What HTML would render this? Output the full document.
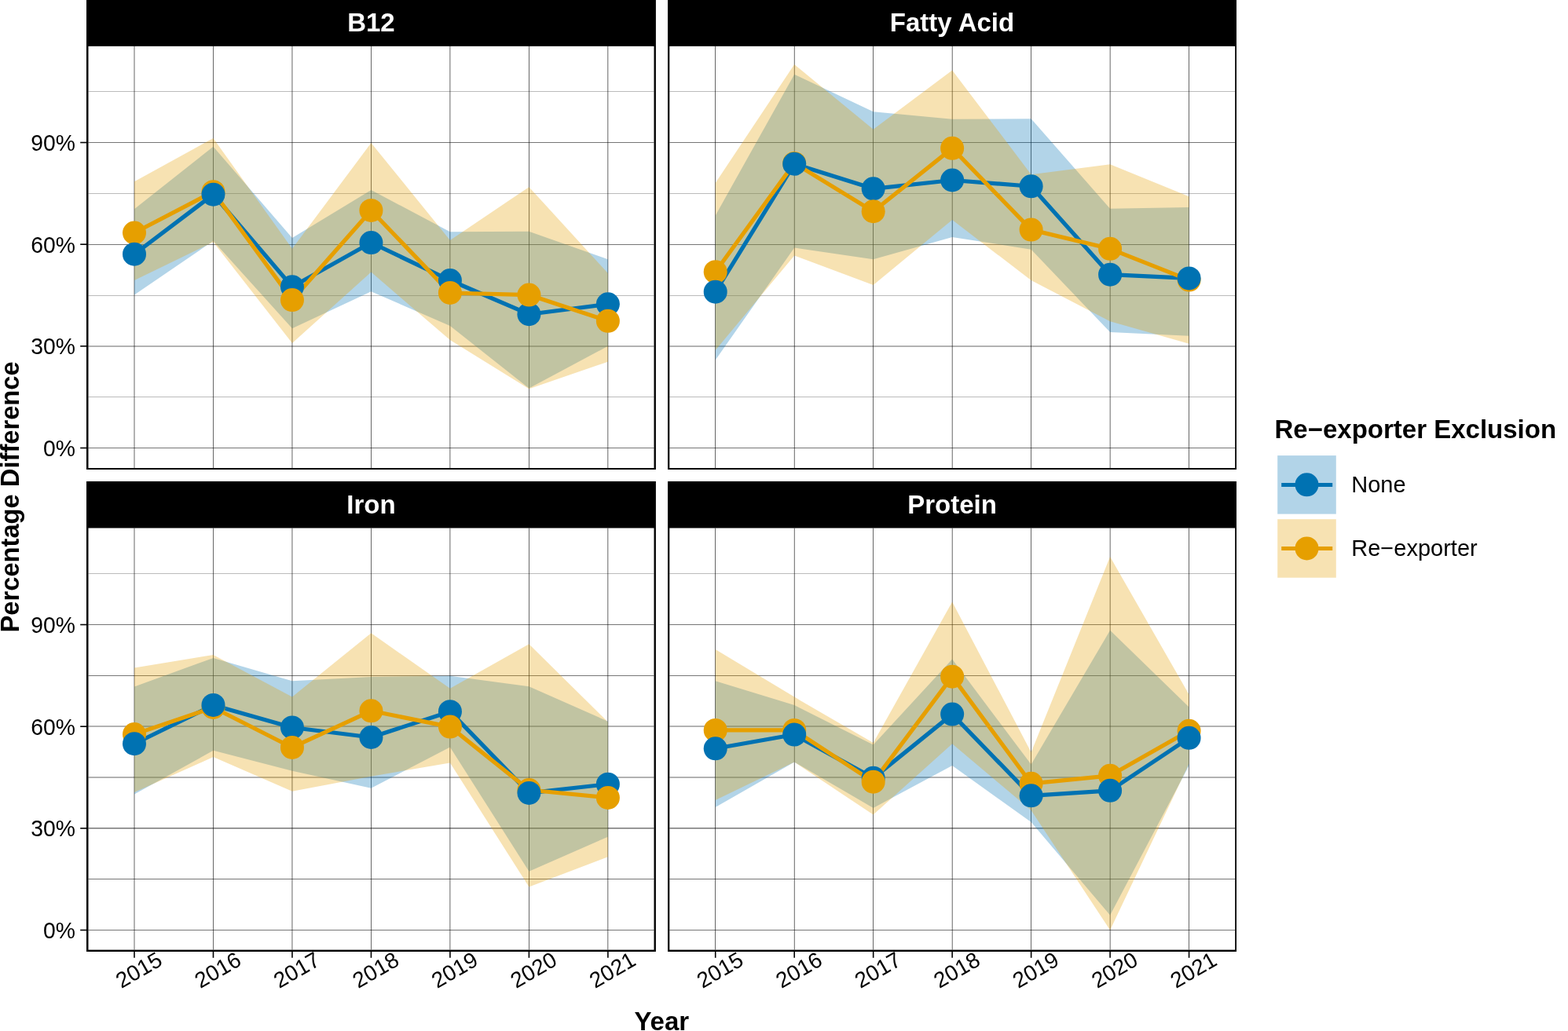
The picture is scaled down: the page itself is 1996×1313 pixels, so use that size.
<!DOCTYPE html>
<html><head><meta charset="utf-8"><title>Percentage Difference by Year</title>
<style>
html,body{margin:0;padding:0;background:#fff;}
body{width:1996px;height:1313px;overflow:hidden;}
svg{display:block;}
text{font-family:"Liberation Sans",Arial,Helvetica,sans-serif;}
.strip{font-size:33px;font-weight:bold;fill:#fff;text-anchor:middle;}
.title{font-size:33px;font-weight:bold;fill:#000;}
.ytxt{font-size:29.2px;fill:#000;text-anchor:end;}
.xtxt{font-size:28px;fill:#000;text-anchor:middle;}
.ltxt{font-size:29px;fill:#000;}
.tick{stroke:#000;stroke-width:1.6;}
.ln{stroke-width:5.2;stroke-linejoin:round;stroke-linecap:butt;}
</style></head>
<body>
<svg width="1996" height="1313" viewBox="0 0 1996 1313">
<rect width="100%" height="100%" fill="#fff"/>
<defs>
<clipPath id="cpB12"><rect x="112.5" y="58.9" width="720" height="537.1"/></clipPath>
<clipPath id="cpFattyAcid"><rect x="852.3" y="58.9" width="719.9" height="537.1"/></clipPath>
<clipPath id="cpIron"><rect x="112.5" y="672.5" width="720" height="537.1"/></clipPath>
<clipPath id="cpProtein"><rect x="852.3" y="672.5" width="719.9" height="537.1"/></clipPath>
</defs>
<rect x="110" y="0" width="724.9" height="598" fill="#000"/>
<rect x="112.5" y="58.9" width="720" height="537.1" fill="#fff"/>
<text x="472.45" y="40" class="strip">B12</text>
<g clip-path="url(#cpB12)">
<rect x="112" y="116.36" width="721" height="0.27" fill="#000"/>
<rect x="112" y="181.23" width="721" height="0.54" fill="#000"/>
<rect x="112" y="246.37" width="721" height="0.27" fill="#000"/>
<rect x="112" y="311.23" width="721" height="0.54" fill="#000"/>
<rect x="112" y="376.37" width="721" height="0.27" fill="#000"/>
<rect x="112" y="440.7" width="721" height="0.6" fill="#000"/>
<rect x="112" y="505.37" width="721" height="0.27" fill="#000"/>
<rect x="112" y="570.23" width="721" height="0.54" fill="#000"/>
<rect x="170.7" y="58" width="0.6" height="538" fill="#000"/>
<rect x="271.18" y="58" width="0.6" height="538" fill="#000"/>
<rect x="371.66" y="58" width="0.6" height="538" fill="#000"/>
<rect x="472.14" y="58" width="0.6" height="538" fill="#000"/>
<rect x="572.62" y="58" width="0.6" height="538" fill="#000"/>
<rect x="673.1" y="58" width="0.6" height="538" fill="#000"/>
<rect x="773.58" y="58" width="0.6" height="538" fill="#000"/>
<polygon points="171,266.23 271.48,186.71 371.96,302.97 472.44,242.03 572.92,295.19 673.4,294.76 773.88,330.2 773.88,440.84 673.4,494.43 572.92,414.91 472.44,371.26 371.96,418.37 271.48,306.86 171,375.58" fill="#0072B2" fill-opacity="0.3"/>
<polygon points="171,231.22 271.48,175.9 371.96,316.8 472.44,181.95 572.92,305.99 673.4,238.14 773.88,347.92 773.88,460.72 673.4,495.3 572.92,433.06 472.44,346.62 371.96,436.95 271.48,308.15 171,356.99" fill="#E69F00" fill-opacity="0.3"/>
<polyline points="171,323.71 271.48,247.65 371.96,365.2 472.44,309.02 572.92,356.99 673.4,400.21 773.88,387.25" fill="none" stroke="#0072B2" class="ln"/>
<polyline points="171,296.49 271.48,244.19 371.96,382.06 472.44,267.96 572.92,372.98 673.4,375.58 773.88,408.86" fill="none" stroke="#E69F00" class="ln"/>
<circle cx="171" cy="296.49" r="15" fill="#E69F00"/>
<circle cx="171" cy="323.71" r="15" fill="#0072B2"/>
<circle cx="271.48" cy="244.19" r="15" fill="#E69F00"/>
<circle cx="271.48" cy="247.65" r="15" fill="#0072B2"/>
<circle cx="371.96" cy="365.2" r="15" fill="#0072B2"/>
<circle cx="371.96" cy="382.06" r="15" fill="#E69F00"/>
<circle cx="472.44" cy="309.02" r="15" fill="#0072B2"/>
<circle cx="472.44" cy="267.96" r="15" fill="#E69F00"/>
<circle cx="572.92" cy="356.99" r="15" fill="#0072B2"/>
<circle cx="572.92" cy="372.98" r="15" fill="#E69F00"/>
<circle cx="673.4" cy="400.21" r="15" fill="#0072B2"/>
<circle cx="673.4" cy="375.58" r="15" fill="#E69F00"/>
<circle cx="773.88" cy="387.25" r="15" fill="#0072B2"/>
<circle cx="773.88" cy="408.86" r="15" fill="#E69F00"/>
</g>
<line x1="102.2" x2="110" y1="570.5" y2="570.5" class="tick"/>
<text x="95.9" y="581" class="ytxt" textLength="40.89" lengthAdjust="spacingAndGlyphs">0%</text>
<line x1="102.2" x2="110" y1="440.84" y2="440.84" class="tick"/>
<text x="95.9" y="451.34" class="ytxt" textLength="56.63" lengthAdjust="spacingAndGlyphs">30%</text>
<line x1="102.2" x2="110" y1="311.18" y2="311.18" class="tick"/>
<text x="95.9" y="321.68" class="ytxt" textLength="56.63" lengthAdjust="spacingAndGlyphs">60%</text>
<line x1="102.2" x2="110" y1="181.52" y2="181.52" class="tick"/>
<text x="95.9" y="192.02" class="ytxt" textLength="56.63" lengthAdjust="spacingAndGlyphs">90%</text>
<rect x="850" y="0" width="724" height="598" fill="#000"/>
<rect x="852.3" y="58.9" width="719.9" height="537.1" fill="#fff"/>
<text x="1212" y="40" class="strip">Fatty Acid</text>
<g clip-path="url(#cpFattyAcid)">
<rect x="852" y="116.36" width="721" height="0.27" fill="#000"/>
<rect x="852" y="181.23" width="721" height="0.54" fill="#000"/>
<rect x="852" y="246.37" width="721" height="0.27" fill="#000"/>
<rect x="852" y="311.23" width="721" height="0.54" fill="#000"/>
<rect x="852" y="376.37" width="721" height="0.27" fill="#000"/>
<rect x="852" y="440.7" width="721" height="0.6" fill="#000"/>
<rect x="852" y="505.37" width="721" height="0.27" fill="#000"/>
<rect x="852" y="570.23" width="721" height="0.54" fill="#000"/>
<rect x="910.4" y="58" width="0.6" height="538" fill="#000"/>
<rect x="1010.88" y="58" width="0.6" height="538" fill="#000"/>
<rect x="1111.36" y="58" width="0.6" height="538" fill="#000"/>
<rect x="1211.84" y="58" width="0.6" height="538" fill="#000"/>
<rect x="1312.32" y="58" width="0.6" height="538" fill="#000"/>
<rect x="1412.8" y="58" width="0.6" height="538" fill="#000"/>
<rect x="1513.28" y="58" width="0.6" height="538" fill="#000"/>
<polygon points="910.7,274.44 1011.18,94.65 1111.66,142.19 1212.14,151.7 1312.62,151.27 1413.1,265.8 1513.58,264.07 1513.58,427.87 1413.1,423.12 1312.62,317.66 1212.14,302.1 1111.66,330.2 1011.18,315.5 910.7,458.56" fill="#0072B2" fill-opacity="0.3"/>
<polygon points="910.7,232.95 1011.18,82.11 1111.66,164.66 1212.14,89.46 1312.62,222.15 1413.1,209.18 1513.58,250.24 1513.58,437.81 1413.1,409.29 1312.62,356.99 1212.14,280.06 1111.66,363.04 1011.18,325.44 910.7,446.03" fill="#E69F00" fill-opacity="0.3"/>
<polyline points="910.7,371.69 1011.18,208.75 1111.66,240.3 1212.14,229.49 1312.62,237.27 1413.1,349.65 1513.58,354.4" fill="none" stroke="#0072B2" class="ln"/>
<polyline points="910.7,346.19 1011.18,207.88 1111.66,269.26 1212.14,188.87 1312.62,292.6 1413.1,316.8 1513.58,356.56" fill="none" stroke="#E69F00" class="ln"/>
<circle cx="910.7" cy="346.19" r="15" fill="#E69F00"/>
<circle cx="910.7" cy="371.69" r="15" fill="#0072B2"/>
<circle cx="1011.18" cy="207.88" r="15" fill="#E69F00"/>
<circle cx="1011.18" cy="208.75" r="15" fill="#0072B2"/>
<circle cx="1111.66" cy="240.3" r="15" fill="#0072B2"/>
<circle cx="1111.66" cy="269.26" r="15" fill="#E69F00"/>
<circle cx="1212.14" cy="229.49" r="15" fill="#0072B2"/>
<circle cx="1212.14" cy="188.87" r="15" fill="#E69F00"/>
<circle cx="1312.62" cy="237.27" r="15" fill="#0072B2"/>
<circle cx="1312.62" cy="292.6" r="15" fill="#E69F00"/>
<circle cx="1413.1" cy="349.65" r="15" fill="#0072B2"/>
<circle cx="1413.1" cy="316.8" r="15" fill="#E69F00"/>
<circle cx="1513.58" cy="356.56" r="15" fill="#E69F00"/>
<circle cx="1513.58" cy="354.4" r="15" fill="#0072B2"/>
</g>
<rect x="110" y="613" width="724.9" height="599" fill="#000"/>
<rect x="112.5" y="672.5" width="720" height="537.1" fill="#fff"/>
<text x="472.45" y="653.6" class="strip">Iron</text>
<g clip-path="url(#cpIron)">
<rect x="112" y="730.37" width="721" height="0.27" fill="#000"/>
<rect x="112" y="795.23" width="721" height="0.54" fill="#000"/>
<rect x="112" y="860.23" width="721" height="0.54" fill="#000"/>
<rect x="112" y="924.7" width="721" height="0.6" fill="#000"/>
<rect x="112" y="989.7" width="721" height="0.6" fill="#000"/>
<rect x="112" y="1054.47" width="721" height="0.8" fill="#000"/>
<rect x="112" y="1119.23" width="721" height="0.54" fill="#000"/>
<rect x="112" y="1184.23" width="721" height="0.54" fill="#000"/>
<rect x="170.7" y="672" width="0.6" height="538" fill="#000"/>
<rect x="271.18" y="672" width="0.6" height="538" fill="#000"/>
<rect x="371.66" y="672" width="0.6" height="538" fill="#000"/>
<rect x="472.14" y="672" width="0.6" height="538" fill="#000"/>
<rect x="572.62" y="672" width="0.6" height="538" fill="#000"/>
<rect x="673.1" y="672" width="0.6" height="538" fill="#000"/>
<rect x="773.58" y="672" width="0.6" height="538" fill="#000"/>
<polygon points="171,874.61 271.48,837.88 371.96,867.27 472.44,862.08 572.92,860.78 673.4,874.18 773.88,918.7 773.88,1065.64 673.4,1109.73 572.92,951.54 472.44,1003.84 371.96,981.8 271.48,955.87 171,1011.62" fill="#0072B2" fill-opacity="0.3"/>
<polygon points="171,850.41 271.48,833.99 371.96,887.58 472.44,806.33 572.92,876.77 673.4,820.16 773.88,919.56 773.88,1091.14 673.4,1129.61 572.92,971.43 472.44,988.71 371.96,1007.73 271.48,964.08 171,1009.03" fill="#E69F00" fill-opacity="0.3"/>
<polyline points="171,947.22 271.48,897.95 371.96,926.48 472.44,939.01 572.92,906.16 673.4,1009.89 773.88,998.65" fill="none" stroke="#0072B2" class="ln"/>
<polyline points="171,935.12 271.48,900.98 371.96,951.98 472.44,905.3 572.92,925.61 673.4,1006 773.88,1015.94" fill="none" stroke="#E69F00" class="ln"/>
<circle cx="171" cy="935.12" r="15" fill="#E69F00"/>
<circle cx="171" cy="947.22" r="15" fill="#0072B2"/>
<circle cx="271.48" cy="900.98" r="15" fill="#E69F00"/>
<circle cx="271.48" cy="897.95" r="15" fill="#0072B2"/>
<circle cx="371.96" cy="926.48" r="15" fill="#0072B2"/>
<circle cx="371.96" cy="951.98" r="15" fill="#E69F00"/>
<circle cx="472.44" cy="939.01" r="15" fill="#0072B2"/>
<circle cx="472.44" cy="905.3" r="15" fill="#E69F00"/>
<circle cx="572.92" cy="906.16" r="15" fill="#0072B2"/>
<circle cx="572.92" cy="925.61" r="15" fill="#E69F00"/>
<circle cx="673.4" cy="1006" r="15" fill="#E69F00"/>
<circle cx="673.4" cy="1009.89" r="15" fill="#0072B2"/>
<circle cx="773.88" cy="998.65" r="15" fill="#0072B2"/>
<circle cx="773.88" cy="1015.94" r="15" fill="#E69F00"/>
</g>
<line x1="102.2" x2="110" y1="1184.5" y2="1184.5" class="tick"/>
<text x="95.9" y="1195" class="ytxt" textLength="40.89" lengthAdjust="spacingAndGlyphs">0%</text>
<line x1="102.2" x2="110" y1="1054.84" y2="1054.84" class="tick"/>
<text x="95.9" y="1065.34" class="ytxt" textLength="56.63" lengthAdjust="spacingAndGlyphs">30%</text>
<line x1="102.2" x2="110" y1="925.18" y2="925.18" class="tick"/>
<text x="95.9" y="935.68" class="ytxt" textLength="56.63" lengthAdjust="spacingAndGlyphs">60%</text>
<line x1="102.2" x2="110" y1="795.52" y2="795.52" class="tick"/>
<text x="95.9" y="806.02" class="ytxt" textLength="56.63" lengthAdjust="spacingAndGlyphs">90%</text>
<line x1="171" x2="171" y1="1212" y2="1219.8" class="tick"/>
<text transform="translate(176.5,1234.9) rotate(-30)" x="0" y="10.0" class="xtxt">2015</text>
<line x1="271.48" x2="271.48" y1="1212" y2="1219.8" class="tick"/>
<text transform="translate(276.98,1234.9) rotate(-30)" x="0" y="10.0" class="xtxt">2016</text>
<line x1="371.96" x2="371.96" y1="1212" y2="1219.8" class="tick"/>
<text transform="translate(377.46,1234.9) rotate(-30)" x="0" y="10.0" class="xtxt">2017</text>
<line x1="472.44" x2="472.44" y1="1212" y2="1219.8" class="tick"/>
<text transform="translate(477.94,1234.9) rotate(-30)" x="0" y="10.0" class="xtxt">2018</text>
<line x1="572.92" x2="572.92" y1="1212" y2="1219.8" class="tick"/>
<text transform="translate(578.42,1234.9) rotate(-30)" x="0" y="10.0" class="xtxt">2019</text>
<line x1="673.4" x2="673.4" y1="1212" y2="1219.8" class="tick"/>
<text transform="translate(678.9,1234.9) rotate(-30)" x="0" y="10.0" class="xtxt">2020</text>
<line x1="773.88" x2="773.88" y1="1212" y2="1219.8" class="tick"/>
<text transform="translate(779.38,1234.9) rotate(-30)" x="0" y="10.0" class="xtxt">2021</text>
<rect x="850" y="613" width="724" height="599" fill="#000"/>
<rect x="852.3" y="672.5" width="719.9" height="537.1" fill="#fff"/>
<text x="1212" y="653.6" class="strip">Protein</text>
<g clip-path="url(#cpProtein)">
<rect x="852" y="730.37" width="721" height="0.27" fill="#000"/>
<rect x="852" y="795.23" width="721" height="0.54" fill="#000"/>
<rect x="852" y="860.23" width="721" height="0.54" fill="#000"/>
<rect x="852" y="924.7" width="721" height="0.6" fill="#000"/>
<rect x="852" y="989.7" width="721" height="0.6" fill="#000"/>
<rect x="852" y="1054.47" width="721" height="0.8" fill="#000"/>
<rect x="852" y="1119.23" width="721" height="0.54" fill="#000"/>
<rect x="852" y="1184.23" width="721" height="0.54" fill="#000"/>
<rect x="910.4" y="672" width="0.6" height="538" fill="#000"/>
<rect x="1010.88" y="672" width="0.6" height="538" fill="#000"/>
<rect x="1111.36" y="672" width="0.6" height="538" fill="#000"/>
<rect x="1211.84" y="672" width="0.6" height="538" fill="#000"/>
<rect x="1312.32" y="672" width="0.6" height="538" fill="#000"/>
<rect x="1412.8" y="672" width="0.6" height="538" fill="#000"/>
<rect x="1513.28" y="672" width="0.6" height="538" fill="#000"/>
<polygon points="910.7,867.27 1011.18,897.95 1111.66,948.52 1212.14,839.6 1312.62,973.59 1413.1,802.87 1513.58,900.54 1513.58,974.88 1413.1,1165.48 1312.62,1047.06 1212.14,974.88 1111.66,1028.91 1011.18,970.56 910.7,1028.04" fill="#0072B2" fill-opacity="0.3"/>
<polygon points="910.7,827.07 1011.18,887.58 1111.66,945.93 1212.14,766.56 1312.62,958.03 1413.1,709.08 1513.58,884.55 1513.58,972.72 1413.1,1184.5 1312.62,1031.93 1212.14,947.22 1111.66,1037.55 1011.18,970.56 910.7,1018.97" fill="#E69F00" fill-opacity="0.3"/>
<polyline points="910.7,953.27 1011.18,935.55 1111.66,990.87 1212.14,909.62 1312.62,1013.35 1413.1,1006.87 1513.58,939.87" fill="none" stroke="#0072B2" class="ln"/>
<polyline points="910.7,929.93 1011.18,929.93 1111.66,995.63 1212.14,861.65 1312.62,997.79 1413.1,987.85 1513.58,930.8" fill="none" stroke="#E69F00" class="ln"/>
<circle cx="910.7" cy="929.93" r="15" fill="#E69F00"/>
<circle cx="910.7" cy="953.27" r="15" fill="#0072B2"/>
<circle cx="1011.18" cy="929.93" r="15" fill="#E69F00"/>
<circle cx="1011.18" cy="935.55" r="15" fill="#0072B2"/>
<circle cx="1111.66" cy="990.87" r="15" fill="#0072B2"/>
<circle cx="1111.66" cy="995.63" r="15" fill="#E69F00"/>
<circle cx="1212.14" cy="909.62" r="15" fill="#0072B2"/>
<circle cx="1212.14" cy="861.65" r="15" fill="#E69F00"/>
<circle cx="1312.62" cy="997.79" r="15" fill="#E69F00"/>
<circle cx="1312.62" cy="1013.35" r="15" fill="#0072B2"/>
<circle cx="1413.1" cy="987.85" r="15" fill="#E69F00"/>
<circle cx="1413.1" cy="1006.87" r="15" fill="#0072B2"/>
<circle cx="1513.58" cy="930.8" r="15" fill="#E69F00"/>
<circle cx="1513.58" cy="939.87" r="15" fill="#0072B2"/>
</g>
<line x1="910.7" x2="910.7" y1="1212" y2="1219.8" class="tick"/>
<text transform="translate(916.2,1234.9) rotate(-30)" x="0" y="10.0" class="xtxt">2015</text>
<line x1="1011.18" x2="1011.18" y1="1212" y2="1219.8" class="tick"/>
<text transform="translate(1016.68,1234.9) rotate(-30)" x="0" y="10.0" class="xtxt">2016</text>
<line x1="1111.66" x2="1111.66" y1="1212" y2="1219.8" class="tick"/>
<text transform="translate(1117.16,1234.9) rotate(-30)" x="0" y="10.0" class="xtxt">2017</text>
<line x1="1212.14" x2="1212.14" y1="1212" y2="1219.8" class="tick"/>
<text transform="translate(1217.64,1234.9) rotate(-30)" x="0" y="10.0" class="xtxt">2018</text>
<line x1="1312.62" x2="1312.62" y1="1212" y2="1219.8" class="tick"/>
<text transform="translate(1318.12,1234.9) rotate(-30)" x="0" y="10.0" class="xtxt">2019</text>
<line x1="1413.1" x2="1413.1" y1="1212" y2="1219.8" class="tick"/>
<text transform="translate(1418.6,1234.9) rotate(-30)" x="0" y="10.0" class="xtxt">2020</text>
<line x1="1513.58" x2="1513.58" y1="1212" y2="1219.8" class="tick"/>
<text transform="translate(1519.08,1234.9) rotate(-30)" x="0" y="10.0" class="xtxt">2021</text>
<text x="842.3" y="1311.9" class="title" text-anchor="middle">Year</text>
<text transform="translate(24.1,632.9) rotate(-90)" x="0" y="0" class="title" style="font-size:32.7px" text-anchor="middle">Percentage Difference</text>
<text x="1622.5" y="557.6" class="title">Re−exporter Exclusion</text>
<rect x="1626.2" y="580.1" width="74.6" height="74.5" fill="#0072B2" fill-opacity="0.3"/>
<line x1="1631.2" x2="1696.2" y1="617.4" y2="617.4" stroke="#0072B2" stroke-width="5"/>
<circle cx="1663.5" cy="617.3" r="15" fill="#0072B2"/>
<text x="1720.3" y="627.1" class="ltxt">None</text>
<rect x="1626.2" y="661.2" width="74.6" height="74.5" fill="#E69F00" fill-opacity="0.3"/>
<line x1="1631.2" x2="1696.2" y1="698.5" y2="698.5" stroke="#E69F00" stroke-width="5"/>
<circle cx="1663.5" cy="698.4" r="15" fill="#E69F00"/>
<text x="1720.3" y="708.2" class="ltxt">Re−exporter</text>
</svg>
</body></html>
